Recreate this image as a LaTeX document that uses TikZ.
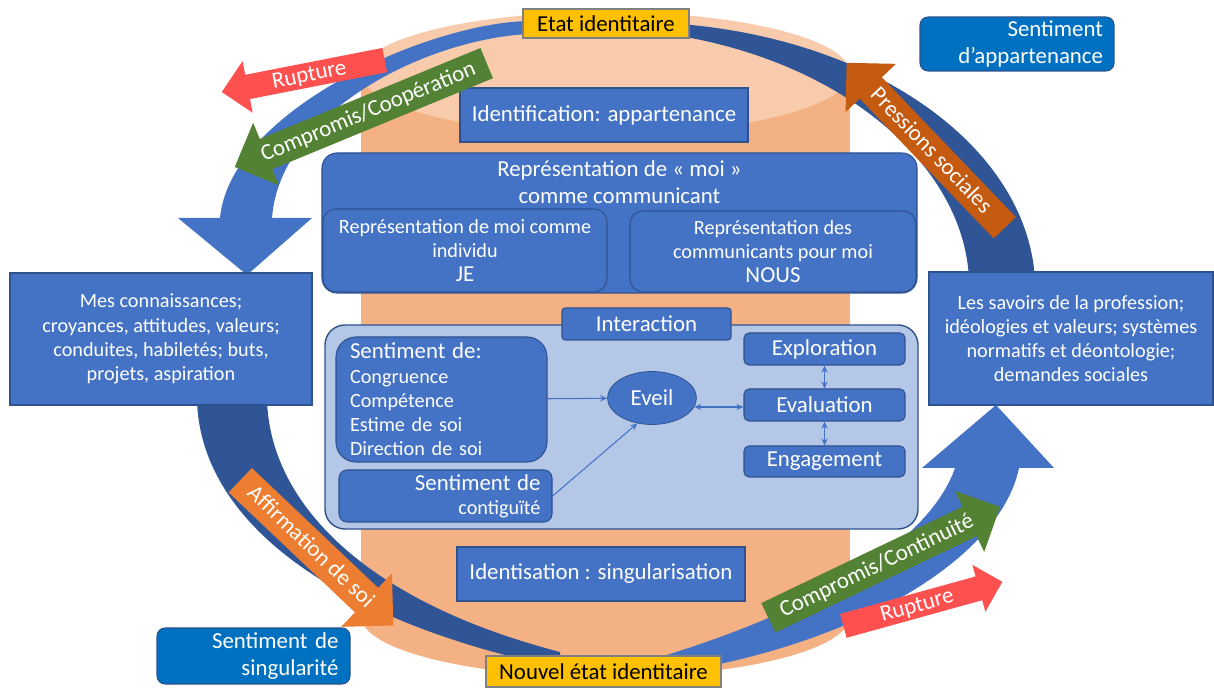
\documentclass[tikz,border=0pt]{standalone}
\usepackage{fontspec}
\setmainfont{Carlito}
\usetikzlibrary{shapes.geometric,shapes.arrows,arrows.meta}

\definecolor{boxblue}{HTML}{4472C4}
\definecolor{boxline}{HTML}{2F528F}
\definecolor{darkarc}{HTML}{2F5597}
\definecolor{sentblue}{HTML}{0070C0}
\definecolor{interfill}{HTML}{B4C7E7}
\definecolor{statefill}{HTML}{FFC000}
\definecolor{ruptred}{HTML}{FF5050}
\definecolor{compgreen}{HTML}{548235}
\definecolor{pressbrown}{HTML}{C55A11}
\definecolor{affirmorange}{HTML}{ED7D31}
\definecolor{cylbody}{HTML}{F4B183}
\definecolor{cyltop}{HTML}{F8CBAD}

\newcommand{\fbig}{\fontsize{13}{15.6}\selectfont}
\newcommand{\fsmall}{\fontsize{11.5}{13.8}\selectfont}

\begin{document}
\begin{tikzpicture}[x=0.2mm,y=-0.2mm,>={Stealth[length=4pt,width=3.5pt]}]
        \tikzstyle{box} = [draw=boxline, fill=boxblue, text=white, align=center, inner sep=0pt, line width=0.6pt]
        \tikzstyle{roundbox} = [box, rounded corners=3mm]
        \tikzstyle{sentbox} = [draw=boxline, fill=sentblue, text=white, rounded corners=1.6mm, font=\fbig, inner ysep=0pt, line width=0.6pt, align=right]
        \tikzstyle{statebox} = [draw=gray, fill=statefill, text=black, font=\fbig, inner sep=0pt, line width=0.6pt]
        \tikzstyle{blockarrow} = [single arrow, text=white, font=\fbig, inner xsep=1mm, inner ysep=0pt, single arrow tip angle=90, anchor=tail]
        \tikzstyle{link} = [draw=boxblue, line width=0.6pt]

        \useasboundingbox (0,0) rectangle (1214,690);

        % cylinder
        \fill[cylbody] (361,73) rectangle (850,616);
        \fill[cylbody] (605.5,616) ellipse [x radius=244.5, y radius=61];
        \fill[cyltop] (605.5,73) ellipse [x radius=244.5, y radius=61];

        % cycle arrows
        \fill[boxblue] (530,21) .. controls (430,22) and (230,110) .. (220,218) -- (178,218) -- (247,275) -- (312,218) -- (272,218) .. controls (280,110) and (430,38) .. (530,34) -- cycle;
        \fill[darkarc] (680,24) .. controls (880,40) and (1028,150) .. (1035,280) -- (969,280) .. controls (965,170) and (850,65) .. (680,36) -- cycle;
        \fill[darkarc] (197,400) .. controls (200,520) and (330,620) .. (560,668) -- (560,652) .. controls (360,600) and (270,500) .. (267,400) -- cycle;
        \fill[boxblue] (650,676) .. controls (850,650) and (1000,560) .. (1019,468) -- (1054,468) -- (996,405) -- (922,468) -- (955,468) .. controls (930,540) and (820,610) .. (650,660) -- cycle;

        \node[sentbox, minimum width=38.8mm, minimum height=10.8mm, text width=34.4mm, inner xsep=2.2mm] (appart) at (1017,44) {Sentiment\\d’appartenance};
        \node[box, font=\fbig, minimum width=57.6mm, minimum height=10.8mm] (ident) at (604,115) {Identification: appartenance};

        \node[roundbox, minimum width=119mm, minimum height=28mm] (repr) at (619.5,223) {};
        \node[text=white, font=\fbig, align=center, inner sep=0pt] (reprtxt) at (619.5,182) {Représentation de «~moi~»\\comme communicant};
        \node[roundbox, rounded corners=2.6mm, font=\fsmall, minimum width=56.8mm, minimum height=16.6mm] (je) at (465,250.5) {Représentation de moi comme\\individu\\{\fbig JE}};
        \node[roundbox, rounded corners=2.6mm, font=\fsmall, minimum width=57.2mm, minimum height=16.2mm] (nous) at (773,251.5) {Représentation des\\communicants pour moi\\{\fbig NOUS}};

        \node[box, font=\fsmall, minimum width=60.4mm, minimum height=26.4mm] (mes) at (161,339) {Mes connaissances;\\croyances, attitudes, valeurs;\\conduites, habiletés; buts,\\projets, aspiration};
        \node[box, font=\fsmall, minimum width=56.8mm, minimum height=26.6mm] (savoirs) at (1071,338.5) {Les savoirs de la profession;\\idéologies et valeurs; systèmes\\normatifs et déontologie;\\demandes sociales};

        % interaction
        \node[draw=boxline, fill=interfill, rounded corners=4mm, line width=0.8pt, minimum width=118.6mm, minimum height=40.8mm] (inter) at (621.5,427) {};
        \node[box, rounded corners=0.6mm, font=\fbig, minimum width=33.8mm, minimum height=6.4mm] (interlbl) at (646.5,324) {Interaction};
        \node[roundbox, rounded corners=4mm, font=\fsmall, align=left, minimum width=42.2mm, minimum height=25mm, text width=36.6mm, inner xsep=2.8mm] (sentde) at (441.5,399.5) {{\fbig Sentiment de:}\\Congruence\\Compétence\\Estime de soi\\Direction de soi};
        \node[roundbox, rounded corners=1.6mm, font=\fsmall, align=right, minimum width=42.6mm, minimum height=10.4mm, text width=38mm, inner xsep=2.3mm] (contig) at (445.5,496) {{\fbig Sentiment de}\\contiguïté};
        \node[ellipse, draw=boxline, fill=boxblue, text=white, font=\fbig, minimum width=17.8mm, minimum height=10.6mm, inner sep=0pt] (eveil) at (652,398) {Eveil};
        \node[box, rounded corners=1mm, font=\fbig, minimum width=32.2mm, minimum height=6.4mm] (explo) at (824.5,349) {Exploration};
        \node[box, rounded corners=1mm, font=\fbig, minimum width=32.2mm, minimum height=6.4mm] (evalu) at (824.5,405) {Evaluation};
        \node[box, rounded corners=1mm, font=\fbig, minimum width=32.2mm, minimum height=6.2mm] (engag) at (824.5,461.5) {Engagement};

        \draw[link,->] (sentde) -- (eveil);
        \draw[link,->] (contig.east) -- (eveil.240);
        \draw[link,<->] (eveil.-12) -- (eveil.-12 -| evalu.west);
        \draw[link,<->] (explo) -- (evalu);
        \draw[link,<->] (evalu) -- (engag);

        \node[box, font=\fbig, minimum width=57.6mm, minimum height=10.8mm] (identis) at (601,574) {Identisation : singularisation};
        \node[sentbox, minimum width=38.6mm, minimum height=11.2mm, text width=34mm, inner xsep=2.3mm] (singu) at (253.5,656) {Sentiment de\\singularité};

        % block arrows
        \node[blockarrow, fill=ruptred, shape border rotate=180, rotate=11.1, text height=3.7mm, text depth=1.1mm, single arrow head extend=2.8mm, minimum height=33.2mm] (rupt1) at (385,60) {Rupture};
        \node[blockarrow, fill=compgreen, shape border rotate=180, rotate=22.4, text height=4.5mm, text depth=1.9mm, single arrow head extend=3.5mm, minimum height=54.5mm] (coop) at (487,63) {Compromis/Coopération};
        \node[blockarrow, fill=pressbrown, shape border rotate=180, rotate=-46.2, text height=4.3mm, text depth=1.7mm, single arrow head extend=3.9mm, minimum height=45.7mm] (press) at (1005,228) {Pressions sociales};
        \node[blockarrow, fill=affirmorange, rotate=-43.5, text height=4.6mm, text depth=2mm, single arrow head extend=4mm, minimum height=42.2mm] (affirm) at (240,480) {Affirmation de soi};
        \node[blockarrow, fill=compgreen, rotate=25.6, text height=4.5mm, text depth=1.9mm, single arrow head extend=3.5mm, minimum height=51.4mm] (contin) at (768,618) {Compromis/Continuité};
        \node[blockarrow, fill=ruptred, rotate=15.5, text height=3.7mm, text depth=1.1mm, single arrow head extend=2.4mm, minimum height=33mm] (rupt2) at (843,626) {Rupture};

        \node[statebox, minimum width=33.2mm, minimum height=5.8mm] (etat) at (606,23.5) {Etat identitaire};
        \node[statebox, minimum width=47mm, minimum height=6.2mm] (nouvel) at (603.5,671.5) {Nouvel état identitaire};
\end{tikzpicture}
\end{document}
